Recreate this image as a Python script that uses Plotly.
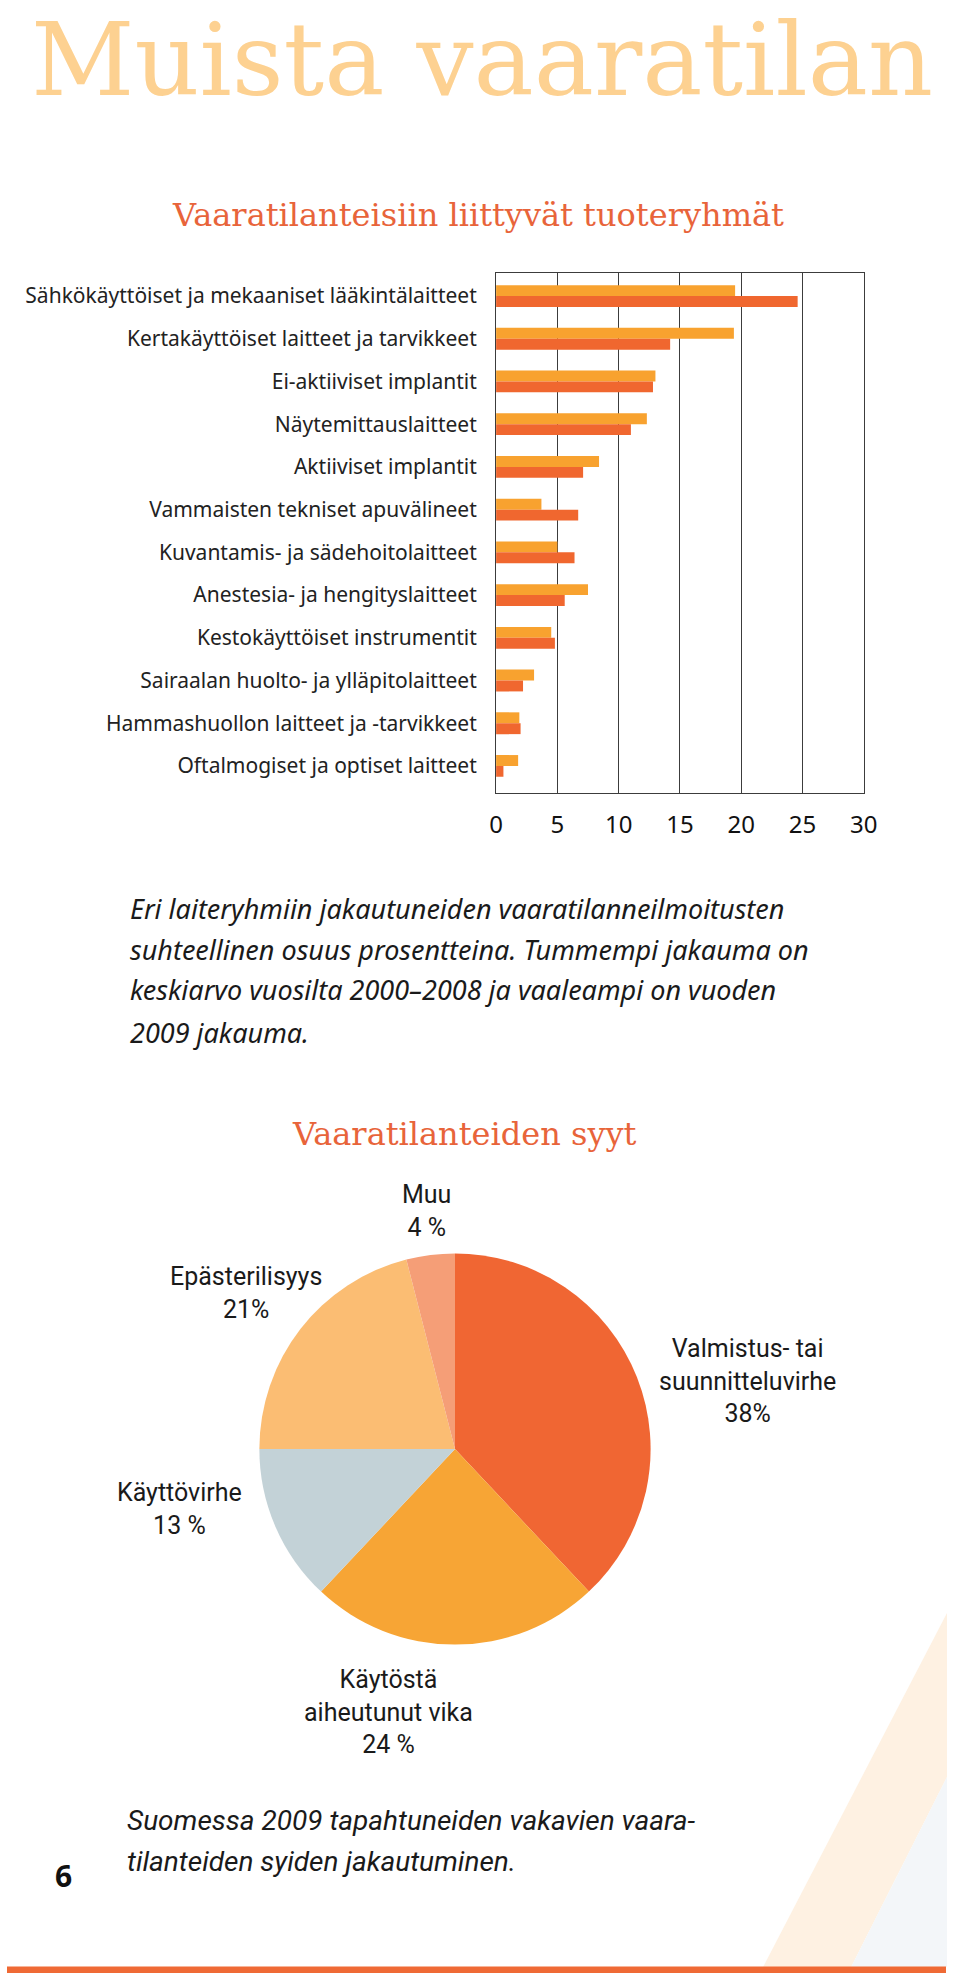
import plotly.graph_objects as go

# ---------------- data ----------------
categories = [
    "Sähkökäyttöiset ja mekaaniset lääkintälaitteet",
    "Kertakäyttöiset laitteet ja tarvikkeet",
    "Ei-aktiiviset implantit",
    "Näytemittauslaitteet",
    "Aktiiviset implantit",
    "Vammaisten tekniset apuvälineet",
    "Kuvantamis- ja sädehoitolaitteet",
    "Anestesia- ja hengityslaitteet",
    "Kestokäyttöiset instrumentit",
    "Sairaalan huolto- ja ylläpitolaitteet",
    "Hammashuollon laitteet ja -tarvikkeet",
    "Oftalmogiset ja optiset laitteet",
]
values_2009 = [19.5, 19.4, 13.0, 12.3, 8.4, 3.7, 5.0, 7.5, 4.5, 3.1, 1.9, 1.8]
values_avg_2000_2008 = [24.6, 14.2, 12.8, 11.0, 7.1, 6.7, 6.4, 5.6, 4.8, 2.2, 2.0, 0.6]
x_ticks = [0, 5, 10, 15, 20, 25, 30]

pie_names = ["Valmistus- tai<br>suunnitteluvirhe", "Käytöstä<br>aiheutunut vika",
             "Käyttövirhe", "Epästerilisyys", "Muu"]
pie_values = [38, 24, 13, 21, 4]
pie_value_text = ["38%", "24 %", "13 %", "21%", "4 %"]

title_text = "Muista vaaratilan"
bar_title = "Vaaratilanteisiin liittyvät tuoteryhmät"
pie_title = "Vaaratilanteiden syyt"
caption1_lines = [
    "Eri laiteryhmiin jakautuneiden vaaratilanneilmoitusten",
    "suhteellinen osuus prosentteina. Tummempi jakauma on",
    "keskiarvo vuosilta 2000–2008 ja vaaleampi on vuoden",
    "2009 jakauma.",
]
caption2_lines = [
    "Suomessa 2009 tapahtuneiden vakavien vaara-",
    "tilanteiden syiden jakautuminen.",
]
page_number = "6"

# ---------------- styling ----------------
W, H = 960, 1973
C_LIGHT = "#F8A22F"
C_DARK = "#F0672F"
PIE_COLORS = ["#F06633", "#F7A535", "#C3D2D7", "#FBBD73", "#F59E77"]
SANS = "Noto Sans, Open Sans, sans-serif"
COND = "Liberation Sans Narrow, Roboto, sans-serif"
SERIF = "DejaVu Serif, serif"
GRID = "#3c3c3c"


def px(x):
    return x / W


def py(y):
    return 1 - y / H


fig = go.Figure()

fig.add_trace(go.Bar(
    y=categories, x=values_2009, orientation="h", name="2009",
    marker=dict(color=C_LIGHT, line=dict(width=0)),
))
fig.add_trace(go.Bar(
    y=categories, x=values_avg_2000_2008, orientation="h", name="2000–2008",
    marker=dict(color=C_DARK, line=dict(width=0)),
))

fig.add_trace(go.Pie(
    labels=[n.replace("<br>", " ") for n in pie_names], values=pie_values,
    sort=False, direction="clockwise", rotation=0,
    marker=dict(colors=PIE_COLORS, line=dict(width=0)),
    textinfo="none", hoverinfo="label+percent",
    domain=dict(x=[px(258), px(658)], y=[py(1649), py(1249)]),
    showlegend=False,
))

fig.update_layout(
    width=W, height=H, autosize=False,
    margin=dict(l=0, r=0, t=0, b=0),
    paper_bgcolor="white", plot_bgcolor="white",
    barmode="group", bargap=0.49, bargroupgap=0,
    showlegend=False,
    xaxis=dict(
        domain=[px(500), px(876)], range=[0, 30],
        tickvals=x_ticks, showgrid=True, gridcolor=GRID, gridwidth=1.2,
        showline=True, linecolor=GRID, linewidth=1.2, mirror=True,
        zeroline=False, ticks="outside", ticklen=10, tickcolor="rgba(0,0,0,0)",
        tickfont=dict(family=SANS, size=24, color="#111"),
        fixedrange=True,
    ),
    yaxis=dict(
        domain=[py(793.3), py(272.7)],
        categoryorder="array", categoryarray=categories,
        range=[11.64, -0.546],
        showline=True, linecolor=GRID, linewidth=1.2, mirror=True,
        showgrid=False, zeroline=False,
        ticks="outside", ticklen=14, tickcolor="rgba(0,0,0,0)",
        tickfont=dict(family=SANS, size=21, color="#222"),
        fixedrange=True,
    ),
)

ann = []
# big page title
ann.append(dict(x=px(24), y=1, xref="paper", yref="paper", xanchor="left", yanchor="top",
                text=title_text, showarrow=False, borderpad=0,
                font=dict(family=SERIF, size=101, color="#FDD191")))
ann.append(dict(x=px(482), y=py(215), xref="paper", yref="paper", xanchor="center", yanchor="middle",
                text=bar_title, showarrow=False,
                font=dict(family=SERIF, size=32, color="#E8643A")))
ann.append(dict(x=px(468), y=py(1134), xref="paper", yref="paper", xanchor="center", yanchor="middle",
                text=pie_title, showarrow=False,
                font=dict(family=SERIF, size=32, color="#E8643A")))

cap1_y = [908, 949, 990, 1032]
for t, yy in zip(caption1_lines, cap1_y):
    ann.append(dict(x=px(124), y=py(yy), xref="paper", yref="paper", xanchor="left", yanchor="middle",
                    text="<i>%s</i>" % t, showarrow=False,
                    font=dict(family=SANS, size=27, color="#1a1a1a")))

cap2_y = [1820, 1861]
for t, yy in zip(caption2_lines, cap2_y):
    ann.append(dict(x=px(121), y=py(yy), xref="paper", yref="paper", xanchor="left", yanchor="middle",
                    text="<i>%s</i>" % t, showarrow=False,
                    font=dict(family=COND, size=28, color="#1a1a1a")))

ann.append(dict(x=px(58), y=py(1875), xref="paper", yref="paper", xanchor="center", yanchor="middle",
                text="<b>%s</b>" % page_number, showarrow=False,
                font=dict(family=SANS, size=30, color="#111")))

# pie labels (positions only; text from data)
pie_label_pos = [(757, 1381), (390, 1712), (176, 1509), (244, 1293), (429, 1211)]
for name, vt, (lx, ly) in zip(pie_names, pie_value_text, pie_label_pos):
    ann.append(dict(x=px(lx), y=py(ly), xref="paper", yref="paper", xanchor="center", yanchor="middle",
                    text="%s<br>%s" % (name, vt), showarrow=False, align="center",
                    font=dict(family=COND, size=25, color="#1a1a1a")))

fig.update_layout(annotations=ann)

# decorative page elements
def path(points):
    return "M " + " L ".join("%f,%f" % (px(a), py(b)) for a, b in points) + " Z"

fig.update_layout(shapes=[
    dict(type="path", xref="paper", yref="paper", layer="below",
         path=path([(961, 1613), (773, 1967), (863, 1967), (961, 1777)]),
         fillcolor="#FEF1E2", line=dict(width=0)),
    dict(type="path", xref="paper", yref="paper", layer="below",
         path=path([(961, 1777), (863, 1967), (961, 1967)]),
         fillcolor="#F3F6F9", line=dict(width=0)),
    dict(type="rect", xref="paper", yref="paper", layer="above",
         x0=0, x1=1, y0=py(1973), y1=py(1966.5),
         fillcolor="#EF6A35", line=dict(width=0)),
])

post = (
    "document.documentElement.style.margin='0';"
    "document.documentElement.style.padding='0';"
    "document.documentElement.style.overflow='hidden';"
    "document.documentElement.style.scrollbarWidth='none';"
    "document.body.style.margin='0';"
    "document.body.style.padding='0';"
    "document.body.style.overflow='hidden';"
    "var gd=document.getElementById('{plot_id}');"
    "gd.style.width='960px';gd.style.height='1973px';"
)

fig.write_html("out.html", config={"displayModeBar": False, "responsive": False},
               default_width="960px", default_height="1973px",
               post_script=post)
